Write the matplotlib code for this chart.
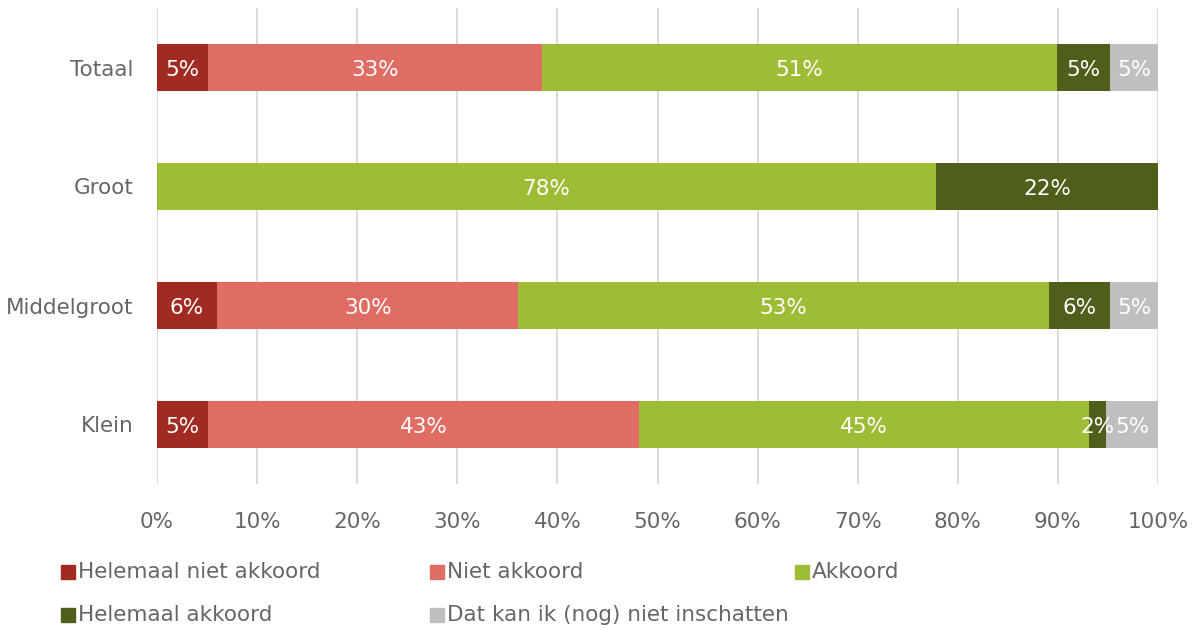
import numpy as np
import matplotlib.pyplot as plt
from matplotlib.patches import Rectangle

# groups (top to bottom) and answer shares in percent
groups = ['Totaal', 'Groot', 'Middelgroot', 'Klein']
helemaal_niet = [5.1, 0.0, 6.0, 5.1]
niet = [33.4, 0.0, 30.1, 43.1]
akkoord = [51.4, 77.8, 53.0, 44.9]
helemaal = [5.3, 22.2, 6.1, 1.7]
weet_niet = [4.8, 0.0, 4.8, 5.2]

series_names = ['Helemaal niet akkoord', 'Niet akkoord', 'Akkoord',
                'Helemaal akkoord', 'Dat kan ik (nog) niet inschatten']
colors = ['#A12A22', '#E06D64', '#9FBC37', '#4F5E1B', '#BFBFBF']
series = [helemaal_niet, niet, akkoord, helemaal, weet_niet]

txt = '#666666'
fs = 15.5

fig = plt.figure(figsize=(11.95, 6.3), dpi=100)
ax = fig.add_axes([157/1195, 1-484/630, 1001/1195, 476/630])

y = np.arange(len(groups))
left = np.zeros(len(groups))
for vals, col in zip(series, colors):
    vals = np.array(vals)
    ax.barh(y, vals, left=left, height=0.4, color=col, zorder=2)
    for yi, (l, v) in enumerate(zip(left, vals)):
        if v > 0:
            ax.text(l + v/2, yi + 0.02, f'{v:.0f}%', ha='center', va='center',
                    color='white', fontsize=fs, zorder=3)
    left += vals

ax.set_xlim(0, 100)
ax.set_ylim(len(groups) - 0.5, -0.5)
ax.set_yticks(y)
ax.set_yticklabels(groups)
ax.set_xticks(np.arange(0, 101, 10))
ax.set_xticklabels([f'{v}%' for v in range(0, 101, 10)])
ax.tick_params(length=0, labelsize=fs, labelcolor=txt)
ax.tick_params(axis='x', pad=20)
ax.tick_params(axis='y', pad=17)
ax.grid(axis='x', color='#D9D9D9', linewidth=1.3, zorder=0)
for s in ax.spines.values():
    s.set_visible(False)

# legend, laid out in two rows of three columns
leg_x = [61, 430, 795, 61, 430]
leg_y = [572, 572, 572, 615, 615]
for name, col, lx, ly in zip(series_names, colors, leg_x, leg_y):
    fig.add_artist(Rectangle((lx/1195, 1 - (ly + 7)/630), 14/1195, 14/630,
                             transform=fig.transFigure, color=col))
    fig.text((lx + 17)/1195, 1 - ly/630, name, ha='left', va='center',
             fontsize=fs, color=txt)

fig.savefig('out.png', dpi=100)
